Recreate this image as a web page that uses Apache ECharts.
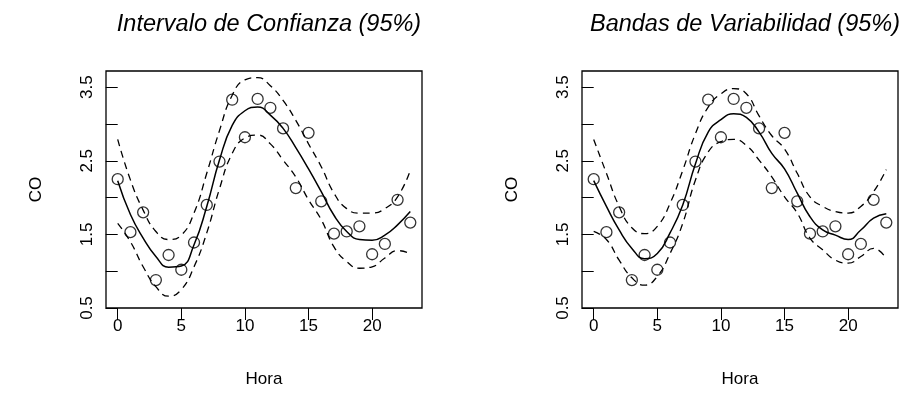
<!DOCTYPE html>
<html>
<head>
<meta charset="utf-8">
<script src="https://cdn.jsdelivr.net/npm/echarts@6/dist/echarts.min.js"></script>
<style>
  html, body { margin: 0; padding: 0; background: #fff; }
  #chart { width: 913px; height: 411px; }
</style>
</head>
<body>
<div id="chart"></div>
<script>
// Hourly CO observations and the two smoothed fits with their 95% bands
const hours = [0,1,2,3,4,5,6,7,8,9,10,11,12,13,14,15,16,17,18,19,20,21,22,23];
const co = [2.25,1.53,1.80,0.88,1.22,1.02,1.39,1.90,2.49,3.33,2.82,3.34,3.22,2.94,2.13,2.88,1.95,1.51,1.54,1.61,1.23,1.37,1.97,1.66];

// Panel 1: confidence interval
const fitIC   = [2.23,1.77,1.45,1.20,1.055,1.07,1.36,1.88,2.51,2.98,3.18,3.23,3.12,2.94,2.68,2.39,2.08,1.76,1.54,1.43,1.42,1.49,1.63,1.81];
const upperIC = [2.79,2.24,1.83,1.54,1.43,1.49,1.79,2.33,2.91,3.39,3.60,3.63,3.52,3.32,3.05,2.73,2.42,2.06,1.85,1.79,1.79,1.85,2.01,2.37];
const lowerIC = [1.65,1.40,1.06,0.79,0.66,0.75,1.06,1.52,2.12,2.60,2.81,2.85,2.73,2.51,2.28,1.97,1.70,1.33,1.13,1.04,1.06,1.18,1.28,1.24];

// Panel 2: variability bands
const fitVB   = [2.23,1.88,1.56,1.31,1.17,1.24,1.52,1.90,2.46,2.89,3.06,3.14,3.09,2.89,2.60,2.39,2.06,1.74,1.56,1.49,1.43,1.56,1.72,1.78];
const upperVB = [2.79,2.33,1.88,1.59,1.51,1.61,1.92,2.37,2.87,3.23,3.41,3.48,3.41,3.11,2.84,2.66,2.33,2.01,1.88,1.81,1.79,1.88,2.08,2.38];
const lowerVB = [1.54,1.43,1.15,0.91,0.81,0.93,1.24,1.65,2.24,2.62,2.76,2.79,2.71,2.51,2.28,2.01,1.79,1.45,1.29,1.15,1.11,1.20,1.31,1.17];

// Axis ticks and labels
const xTicks = [0,5,10,15,20];
const yTicks = [0.5,1.0,1.5,2.0,2.5,3.0,3.5];
const yLabels = [0.5,1.5,2.5,3.5];

const titles = ['Intervalo de Confianza (95%)', 'Bandas de Variabilidad (95%)'];
const xName = 'Hora';
const yName = 'CO';

const FONT = '"Liberation Sans", Arial, Helvetica, sans-serif';
const pair = (ys) => hours.map((h, i) => [h, ys[i]]);

const grids = [
  { left: 106, top: 71, width: 316, height: 237 },
  { left: 582, top: 71, width: 316, height: 237 }
];

function xAxis(gi) {
  return {
    type: 'value', gridIndex: gi, min: -0.92, max: 23.92,
    name: xName, nameLocation: 'middle', nameGap: 63,
    nameTextStyle: { fontFamily: FONT, fontSize: 17, color: '#000' },
    axisLine: { show: false },
    axisTick: { show: true, inside: false, length: 12, customValues: xTicks,
                lineStyle: { color: '#000', width: 1 } },
    axisLabel: { customValues: xTicks, margin: 10, fontFamily: FONT, fontSize: 17, color: '#000' },
    splitLine: { show: false }
  };
}
function yAxis(gi) {
  return {
    type: 'value', gridIndex: gi, min: 0.5, max: 3.72,
    name: yName, nameLocation: 'middle', nameGap: 61, nameRotate: 90,
    nameTextStyle: { fontFamily: FONT, fontSize: 17, color: '#000' },
    axisLine: { show: false },
    axisTick: { show: true, inside: false, length: 12, customValues: yTicks,
                lineStyle: { color: '#000', width: 1 } },
    axisLabel: { customValues: yLabels, rotate: 90, margin: 10,
                 formatter: (v) => v.toFixed(1),
                 fontFamily: FONT, fontSize: 17, color: '#000' },
    splitLine: { show: false }
  };
}

function panelSeries(gi, fit, upper, lower) {
  const dashed = (d) => ({
    type: 'line', xAxisIndex: gi, yAxisIndex: gi, data: pair(d), smooth: true,
    showSymbol: false, silent: true,
    lineStyle: { color: '#000', width: 1.3, type: [7, 5] }
  });
  return [
    {
      type: 'scatter', xAxisIndex: gi, yAxisIndex: gi, data: pair(co),
      symbol: 'circle', symbolSize: 11,
      itemStyle: { color: 'rgba(0,0,0,0)', borderColor: '#000', borderWidth: 1.3 }
    },
    {
      type: 'line', xAxisIndex: gi, yAxisIndex: gi, data: pair(fit), smooth: true,
      showSymbol: false, silent: true,
      lineStyle: { color: '#000', width: 1.5, type: 'solid' }
    },
    dashed(upper),
    dashed(lower)
  ];
}

const chart = echarts.init(document.getElementById('chart'), null, { renderer: 'canvas' });
chart.setOption({
  animation: false,
  backgroundColor: '#fff',
  title: titles.map((t, i) => ({
    text: t, left: grids[i].left + grids[i].width / 2, top: 8, textAlign: 'center',
    textStyle: { fontFamily: FONT, fontSize: 23.5, fontStyle: 'italic', fontWeight: 'normal', color: '#000' }
  })),
  grid: grids.map(g => Object.assign({ show: true, borderColor: '#000', borderWidth: 1.3,
                                        backgroundColor: 'transparent' }, g)),
  xAxis: [xAxis(0), xAxis(1)],
  yAxis: [yAxis(0), yAxis(1)],
  series: [].concat(
    panelSeries(0, fitIC, upperIC, lowerIC),
    panelSeries(1, fitVB, upperVB, lowerVB)
  )
});
</script>
</body>
</html>
